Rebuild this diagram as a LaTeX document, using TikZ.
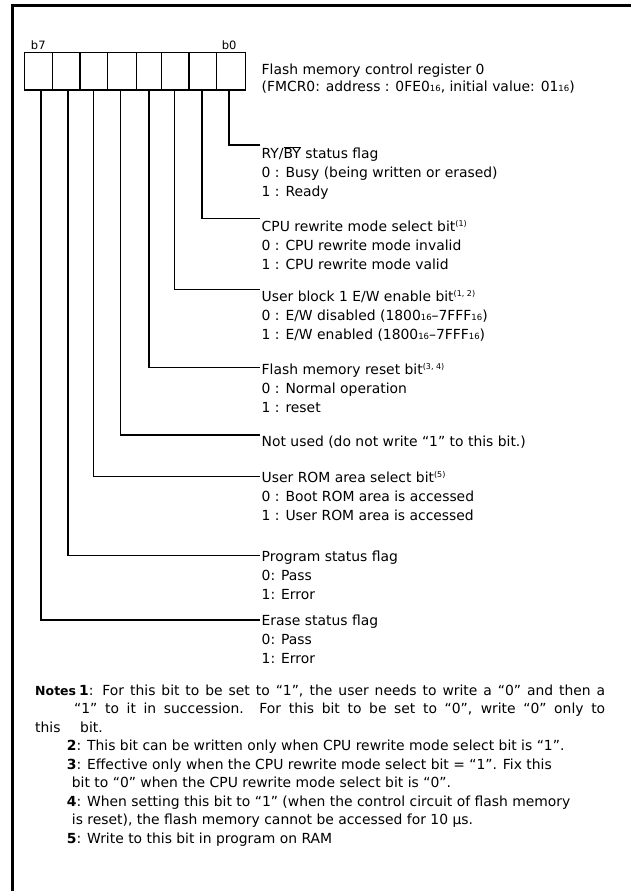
\documentclass[tikz,border=0pt]{standalone}
\usepackage{fontspec}
\setmainfont{DejaVu Sans}
\newcommand{\sxt}{{\fontsize{8.5}{8.5}\selectfont 16}}
\newcommand{\supn}[1]{\raisebox{5pt}{\fontsize{8}{8}\selectfont(#1)}}
\newcommand{\fst}{\rule{0pt}{12pt}}
\begin{document}
\begin{tikzpicture}[x=1pt,y=-1pt,
  frame/.style={line width=3pt},
  cell/.style={draw, line width=1.2pt, minimum height=37.3pt, inner sep=0pt},
  conn/.style={line width=1.2pt},
  bitlbl/.style={anchor=base, inner sep=0pt, font=\fontsize{11.5}{13}\selectfont},
  desc/.style={anchor=north west, inner sep=0pt, align=left, font=\fontsize{13.9}{19}\selectfont},
  note/.style={anchor=base west, inner sep=0pt, font=\fontsize{13.9}{19}\selectfont}]
\useasboundingbox (0,0) rectangle (631,891);
% frame
\draw[frame] (12.5,891) -- (12.5,6) -- (631,6);
% register cells
\node[cell, minimum width=28pt]   (r7) at (38.5,71.35) {};
\node[cell, minimum width=27.5pt] (r6) at (66.25,71.35) {};
\node[cell, minimum width=27.5pt] (r5) at (93.75,71.35) {};
\node[cell, minimum width=29pt]   (r4) at (122,71.35) {};
\node[cell, minimum width=25pt]   (r3) at (149,71.35) {};
\node[cell, minimum width=27.5pt] (r2) at (175.25,71.35) {};
\node[cell, minimum width=27.5pt] (r1) at (202.75,71.35) {};
\node[cell, minimum width=29pt]   (r0) at (231,71.35) {};
\node[bitlbl] (lb7) at (38.3,49) {b7};
\node[bitlbl] (lb0) at (229.2,49) {b0};
% title
\node[desc] (title) at (261.5,62.3) {\fst Flash memory control register 0\\[-2pt](FMCR0: address : 0FE0\sxt, initial value: 01\sxt)};
% bit taps
\coordinate (t0) at (229,90);
\coordinate (t1) at (202,90);
\coordinate (t2) at (174.3,90);
\coordinate (t3) at (149,90);
\coordinate (t4) at (120.5,90);
\coordinate (t5) at (93.3,90);
\coordinate (t6) at (68,90);
\coordinate (t7) at (41,90);
% line ends
\coordinate (e0) at (260,145);
\coordinate (e1) at (260,218.3);
\coordinate (e2) at (260,289.3);
\coordinate (e3) at (260,367.7);
\coordinate (e4) at (260,435);
\coordinate (e5) at (260,476.7);
\coordinate (e6) at (260,555.7);
\coordinate (e7) at (260,620);
\draw[conn] (t0) |- (e0);
\draw[conn] (t1) |- (e1);
\draw[conn] (t2) |- (e2);
\draw[conn] (t3) |- (e3);
\draw[conn] (t4) |- (e4);
\draw[conn] (t5) |- (e5);
\draw[conn] (t6) |- (e6);
\draw[conn] (t7) |- (e7);
% descriptions
\node[desc] (d0) at (261.5,146.3) {\fst RY/$\overline{\mbox{BY}}$ status flag\\0 : Busy (being written or erased)\\1 : Ready};
\node[desc] (d1) at (261.5,219.7) {\fst CPU rewrite mode select bit\supn{1}\\0 : CPU rewrite mode invalid\\1 : CPU rewrite mode valid};
\node[desc] (d2) at (261.5,289.7) {\fst User block 1 E/W enable bit\supn{1, 2}\\0 : E/W disabled (1800\sxt–7FFF\sxt)\\1 : E/W enabled (1800\sxt–7FFF\sxt)};
\node[desc] (d3) at (261.5,362) {\fst Flash memory reset bit\supn{3, 4}\\0 : Normal operation\\1 : reset};
\node[desc] (d4) at (261.5,434.7) {\fst Not used (do not write “1” to this bit.)};
\node[desc] (d5) at (261.5,470.3) {\fst User ROM area select bit\supn{5}\\0 : Boot ROM area is accessed\\1 : User ROM area is accessed};
\node[desc] (d6) at (261.5,549.7) {\fst Program status flag\\0: Pass\\1: Error};
\node[desc] (d7) at (261.5,613) {\fst Erase status flag\\0: Pass\\1: Error};
% notes
\node[note, font=\fontsize{12.5}{19}\bfseries] (n0) at (35,695) {Notes};
\node[note] (n1) at (79,695) {\makebox[526pt][s]{\textbf{1}: For this bit to be set to “1”, the user needs to write a “0” and then a}};
\node[note] (n1b) at (74,713.5) {\makebox[531pt][s]{“1” to it in succession. For this bit to be set to “0”, write “0” only to}};
\node[note] (n1c) at (35,732) {this};
\node[note] (n1d) at (80,732) {bit.};
\node[note] (n2) at (66.7,750.5) {\textbf{2}: This bit can be written only when CPU rewrite mode select bit is “1”.};
\node[note] (n3) at (66.7,769) {\textbf{3}: Effective only when the CPU rewrite mode select bit = “1”. Fix this};
\node[note] (n3b) at (71.7,787.5) {bit to “0” when the CPU rewrite mode select bit is “0”.};
\node[note] (n4) at (66.7,806) {\textbf{4}: When setting this bit to “1” (when the control circuit of flash memory};
\node[note] (n4b) at (71.7,824.5) {is reset), the flash memory cannot be accessed for 10 µs.};
\node[note] (n5) at (66.7,843) {\textbf{5}: Write to this bit in program on RAM};
\end{tikzpicture}
\end{document}
